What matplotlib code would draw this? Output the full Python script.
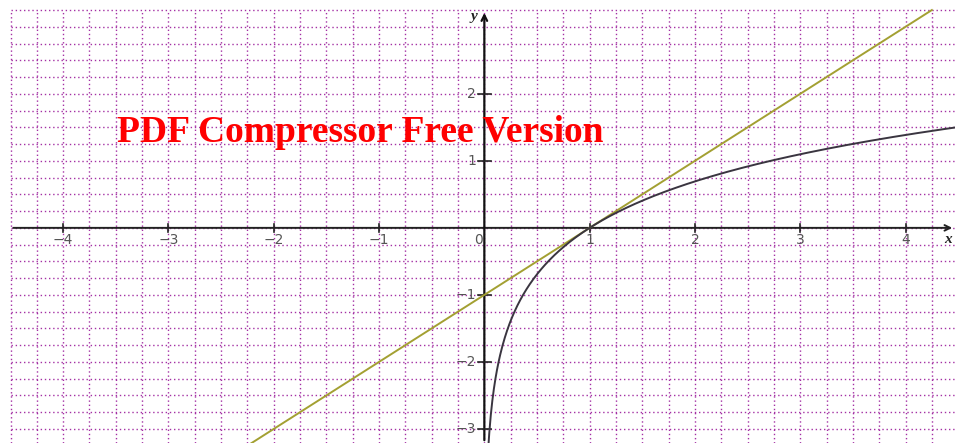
import numpy as np
import matplotlib
matplotlib.use("Agg")
import matplotlib.pyplot as plt

# Data
x_ticks = [-4, -3, -2, -1, 1, 2, 3, 4]
x_tick_labels = ["\u22124", "\u22123", "\u22122", "\u22121", "1", "2", "3", "4"]
y_ticks = [-3, -2, -1, 1, 2]
y_tick_labels = ["\u22123", "\u22122", "\u22121", "1", "2"]
log_x = np.linspace(0.039, 4.47, 600)
log_y = np.log(log_x)
tangent_x = [-2.25, 4.25]
tangent_y = [-3.25, 3.25]
watermark = "PDF Compressor Free Version"

XMIN, XMAX = -4.6, 4.47
YMIN, YMAX = -3.21, 3.40
GX0, GY1 = -4.5, 3.25

fig = plt.figure(figsize=(9.55, 4.43), dpi=100)
ax = fig.add_axes([0, 0, 1, 1])
ax.set_xlim(XMIN, XMAX)
ax.set_ylim(YMIN, YMAX)
ax.axis("off")

grid_c = "#9a1a9a"
gx = np.arange(-4.5, 4.5, 0.25)
gy = np.arange(-3.25, 3.26, 0.25)
for v in gx:
    ax.plot([v, v], [YMIN, GY1], color=grid_c, lw=1.0, ls=(0, (1, 2.0)), alpha=0.9, zorder=1)
for v in gy:
    ax.plot([GX0, XMAX], [v, v], color=grid_c, lw=1.0, ls=(0, (1, 2.0)), alpha=0.9, zorder=1)

# axes
ax.annotate("", xy=(XMAX, 0), xytext=(GX0, 0),
            arrowprops=dict(arrowstyle="->", color="#222222", lw=1.4, mutation_scale=10), zorder=3)
ax.annotate("", xy=(0, GY1), xytext=(0, YMIN),
            arrowprops=dict(arrowstyle="->", color="#111111", lw=1.6, mutation_scale=10), zorder=3)
ax.text(4.4, -0.08, "x", style="italic", fontweight="bold", family="Liberation Serif",
        fontsize=11, ha="center", va="top", color="#222222")
ax.text(-0.1, 3.15, "y", style="italic", fontweight="bold", family="Liberation Serif",
        fontsize=11, ha="center", va="center", color="#222222")

tick_dx = 0.06
tick_dy = 0.06
for t, lab in zip(x_ticks, x_tick_labels):
    ax.plot([t, t], [-tick_dy, tick_dy], color="#222222", lw=1.2, zorder=3)
    ax.text(t, -0.08, lab, ha="center", va="top", fontsize=10, color="#555555")
ax.text(-0.06, -0.08, "0", ha="center", va="top", fontsize=10, color="#555555")
for t, lab in zip(y_ticks, y_tick_labels):
    ax.plot([-tick_dx, tick_dx], [t, t], color="#222222", lw=1.2, zorder=3)
    ax.text(-0.08, t, lab, ha="right", va="center", fontsize=10, color="#555555")

# curves
ax.plot(tangent_x, tangent_y, color="#a3a032", lw=1.4, zorder=4)
ax.plot(log_x, log_y, color="#3a3540", lw=1.4, zorder=5)

ax.text(-1.18, 1.42, watermark, family="Liberation Serif", fontweight="bold",
        fontsize=27, color="#ff0000", ha="center", va="center", zorder=6)

fig.savefig("out.png", dpi=100)
